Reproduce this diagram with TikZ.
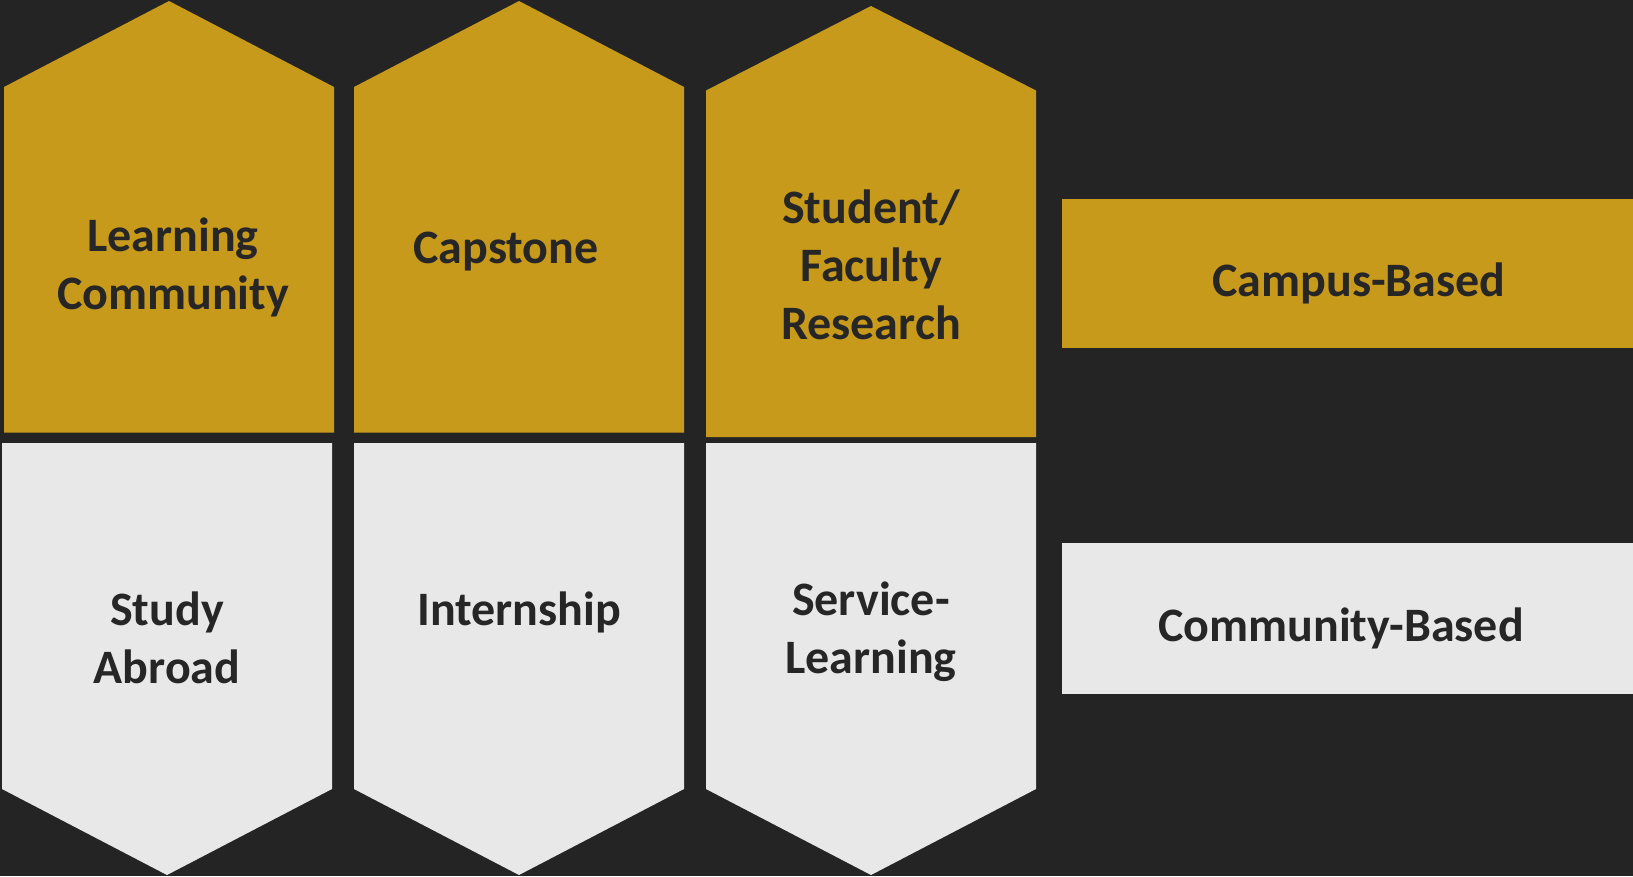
\documentclass[tikz,border=0pt]{standalone}
\usepackage{fontspec}
\setmainfont{Carlito}
\usetikzlibrary{math}
\definecolor{bgdark}{HTML}{242424}
\definecolor{gold}{HTML}{C89A1C}
\definecolor{pale}{HTML}{E8E8E8}
\definecolor{ink}{HTML}{262626}

\begin{document}
\begin{tikzpicture}[x=1pt,y=-1pt,
  lbl/.style={text=ink,font=\bfseries\fontsize{48}{58}\selectfont,align=center,inner sep=0pt}]
 \fill[bgdark] (0,0) rectangle (1633,876);
 \def\dx{330}
 % upper row, pointing up
 \foreach \x / \tp / \sh / \bt in {4/1/87/432.5, 354/1/87/432.5, 706/6/90.5/437}
  {
    \fill[gold] (\x,\bt) -- (\x,\sh) -- (\x+\dx/2,\tp) -- (\x+\dx,\sh) -- (\x+\dx,\bt) -- cycle;
  }
 % lower row, pointing down
 \foreach \x in {2,354,706}
  {
    \fill[pale] (\x,443) -- (\x+\dx,443) -- (\x+\dx,789) -- (\x+\dx/2,875) -- (\x,789) -- cycle;
  }
 % bars on the right
 \fill[gold] (1062,199) rectangle (1633,348);
 \fill[pale] (1062,543) rectangle (1633,694);

 \node[lbl] (learning) at (173,267) {Learning\\Community};
 \node[lbl] (capstone) at (506,252) {Capstone};
 \node[lbl] (research) at (871,265) {Student/\\Faculty\\Research};
 \node[lbl] (abroad) at (167,638) {Study\\Abroad};
 \node[lbl] (intern) at (519,612) {Internship};
 \node[lbl] (service) at (871,632) {Service-\\Learning};
 \node[lbl] (campus) at (1359,283) {Campus-Based};
 \node[lbl] (community) at (1341,628) {Community-Based};
\end{tikzpicture}
\end{document}
